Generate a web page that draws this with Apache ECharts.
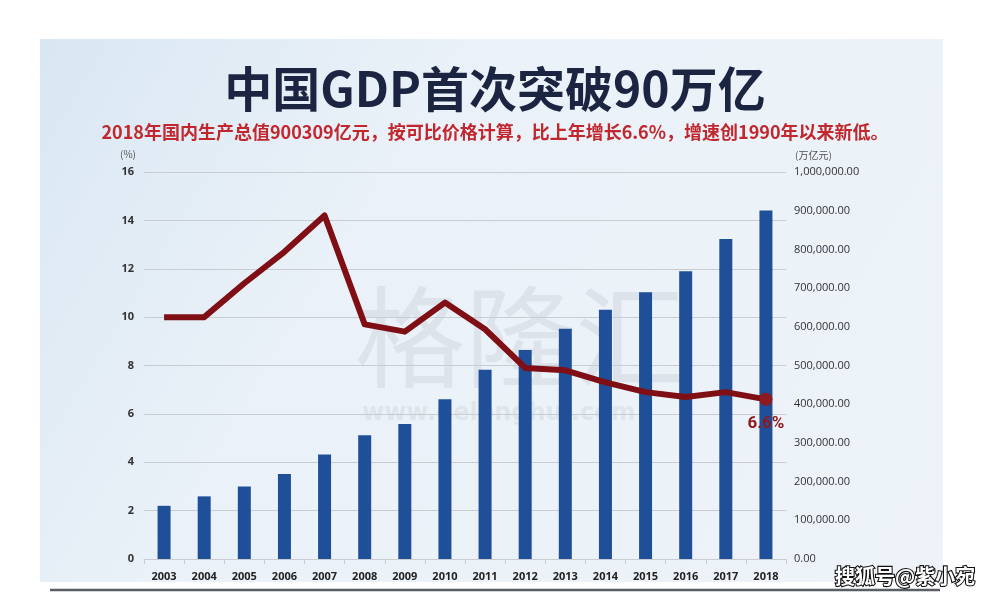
<!DOCTYPE html>
<html>
<head>
<meta charset="utf-8">
<script src="https://cdn.jsdelivr.net/npm/echarts@6/dist/echarts.min.js"></script>
<style>html,body{margin:0;padding:0;background:#fff}#c{width:990px;height:600px}</style>
</head>
<body>
<div id="c"></div>
<script>
const years = ['2003','2004','2005','2006','2007','2008','2009','2010','2011','2012','2013','2014','2015','2016','2017','2018'];
const gdp = [137422,161840,187319,219439,270232,319516,349081,413030,489301,540367,595244,643974,689052,743586,827122,900309];
const growth = [10.0,10.0,11.4,12.7,14.2,9.7,9.4,10.6,9.5,7.9,7.8,7.3,6.9,6.7,6.9,6.6];
const leftTicks = {min:0, max:16, interval:2};
const rightTicks = {min:0, max:1000000, interval:100000};
const titleText = '中国GDP首次突破90万亿';
const subText = '2018年国内生产总值900309亿元，按可比价格计算，比上年增长6.6%，增速创1990年以来新低。';

const chart = echarts.init(document.getElementById('c'));
const fmt = v => v.toLocaleString('en-US',{minimumFractionDigits:2,maximumFractionDigits:2});
const lineData = growth.map((v,i)=> i===growth.length-1 ? {value:v, symbol:'circle', symbolSize:13,
  label:{show:true, position:'bottom', distance:9, formatter:'6.6%', color:'#8e1a1f', fontSize:17, fontWeight:'bold', fontFamily:'Roboto, sans-serif'}} : v);

chart.setOption({
  animation:false,
  backgroundColor:'#ffffff',
  graphic:[
    {type:'rect', z:-10, shape:{x:40,y:39,width:903,height:543},
     style:{fill:new echarts.graphic.LinearGradient(0,0,1,1,[{offset:0,color:'#d9e7f3'},{offset:0.35,color:'#eaf1f8'},{offset:1,color:'#edf3f8'}])}},
    {type:'line', z:-5, shape:{x1:50,y1:590,x2:940,y2:590}, style:{stroke:'#5a5e63', lineWidth:2.5}},
    {type:'text', z:-2, left:355, top:282, style:{text:'格隆汇', font:'110px "Noto Sans CJK SC"', fill:'rgba(140,145,150,0.14)'}},
    {type:'text', z:-2, left:362, top:402, style:{text:'www.gelonghui.com', font:'bold 24px "DejaVu Sans"', fill:'rgba(140,145,150,0.13)'}},
    {type:'text', left:834, top:565, style:{text:'搜狐号@紫小宛', font:'bold 20px "Noto Sans CJK SC"', fill:'#ffffff', stroke:'#111', lineWidth:2.2}},
    {type:'text', left:120, top:149, style:{text:'(%)', font:'10px "Noto Sans CJK SC"', fill:'#555'}},
    {type:'text', left:795, top:150, style:{text:'(万亿元)', font:'10px "Noto Sans CJK SC"', fill:'#555'}}
  ],
  title:[
    {text:titleText, left:'center', top:60, textStyle:{fontSize:48, fontWeight:'bold', color:'#1b2440', fontFamily:'"Noto Sans CJK SC"'}},
    {text:subText, left:'center', top:118, textStyle:{fontSize:18, fontWeight:'bold', color:'#c1272d', fontFamily:'"Noto Sans CJK SC"'}}
  ],
  grid:{left:144, right:204, top:172, bottom:41},
  xAxis:{type:'category', data:years,
    axisLine:{lineStyle:{color:'#c9ccd0'}}, axisTick:{show:true, lineStyle:{color:'#c9ccd0'}},
    axisLabel:{color:'#222', fontSize:11, fontWeight:'bold', margin:12, fontFamily:'"Open Sans", sans-serif'}},
  yAxis:[
    {type:'value', ...leftTicks, axisLine:{show:false}, axisTick:{show:false},
     splitLine:{lineStyle:{color:'#c9cdd2', width:1.2}},
     axisLabel:{color:'#333', fontSize:11, fontWeight:'bold', margin:10, fontFamily:'"Open Sans", sans-serif'}},
    {type:'value', ...rightTicks, axisLine:{show:false}, axisTick:{show:false}, splitLine:{show:false},
     axisLabel:{color:'#333', fontSize:11, margin:8, formatter:fmt, fontFamily:'"Open Sans", sans-serif'}}
  ],
  series:[
    {type:'bar', yAxisIndex:1, data:gdp, barWidth:13, itemStyle:{color:'#1f4f98'}, z:2},
    {type:'line', yAxisIndex:0, data:lineData, symbol:'none', lineStyle:{color:'#7f0f14', width:6, join:'round'},
     itemStyle:{color:'#8e1a1f'}, z:3}
  ]
});
</script>
</body>
</html>
